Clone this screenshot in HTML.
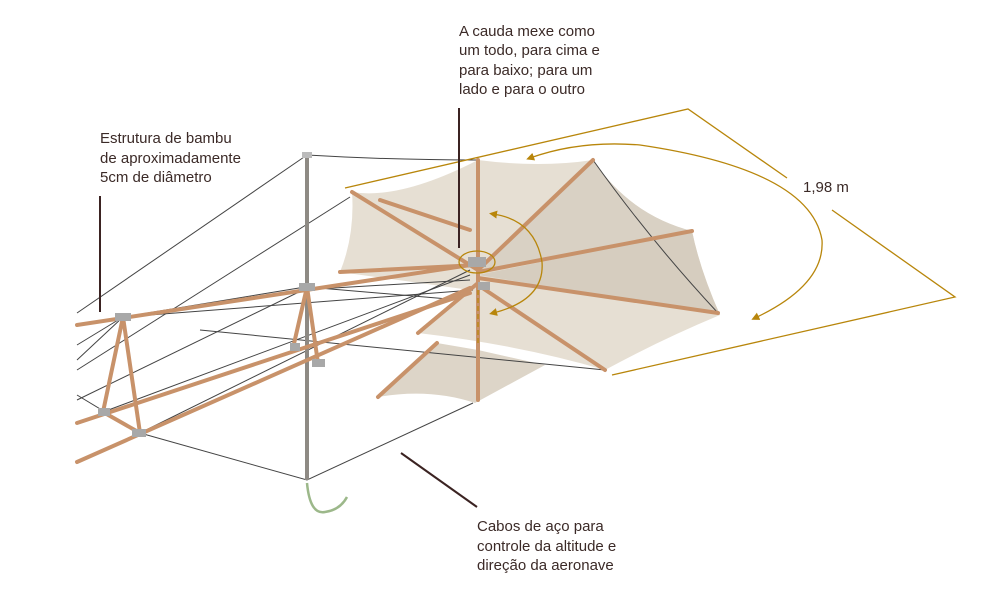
<!DOCTYPE html>
<html><head><meta charset="utf-8"><style>
html,body{margin:0;padding:0;background:#fff;width:1000px;height:600px;overflow:hidden}
svg{display:block}
text{font-family:"Liberation Sans",sans-serif;font-size:15px;fill:#3b2a27}
</style></head><body>
<svg width="1000" height="600" viewBox="0 0 1000 600">
<defs>
<marker id="ah" viewBox="0 0 10 10" refX="5" refY="5" markerWidth="8" markerHeight="8" markerUnits="userSpaceOnUse" orient="auto-start-reverse"><path d="M0,0L10,5L0,10z" fill="#b8860b"/></marker>
</defs>
<!-- fabric -->
<g stroke="none">
<path d="M378,397 L437,343 L478,350 L545,365 L475,403 Q430,388 378,397z" fill="#ddd5c8"/>
<path d="M352,192 Q400,200 478,160 Q540,168 593,160 Q630,215 692,231 Q700,270 720,315 Q660,340 605,370 Q520,345 418,333 L470,290 L340,272 Q355,235 352,192z" fill="#e6dfd3"/>
<path d="M478,270 L593,160 Q630,215 692,231 L478,272z" fill="#d9d1c4"/>
<path d="M478,275 L692,231 Q700,270 720,315z" fill="#d6cdbf"/>
</g>
<!-- wires -->
<g stroke="#444" stroke-width="1" fill="none">
<path d="M307,155 L77,313"/>
<path d="M307,155 Q390,160 478,160"/>
<path d="M350,197 L77,370"/>
<path d="M140,433 L307,480 L473,403"/>
<path d="M77,395 L140,433"/>
<path d="M123,317 L473,290"/>
<path d="M123,317 L305,287"/>
<path d="M140,433 L470,270"/>
<path d="M103,412 L470,275"/>
<path d="M307,287 L460,300"/>
<path d="M200,330 L605,370"/>
<path d="M77,345 L123,317 L77,360"/>
<path d="M593,160 Q650,240 718,313"/>
<path d="M303,290 L77,400"/>
<path d="M300,290 L470,280"/>
</g>
<!-- mast -->
<line x1="307" y1="155" x2="307" y2="480" stroke="#8e8a84" stroke-width="4"/>
<rect x="302" y="152" width="10" height="6" fill="#bbb"/>
<path d="M307,483 Q310,515 325,512 Q340,510 347,497" stroke="#9cb88a" stroke-width="2.5" fill="none"/>
<!-- bamboo -->
<g stroke="#c8926a" stroke-width="4" stroke-linecap="round" fill="none">
<path d="M77,325 L470,265"/>
<path d="M77,423 L470,293"/>
<path d="M77,462 L470,288"/>
<path d="M123,317 L103,412 L140,433 L123,317"/>
<path d="M307,287 L293,348 M307,287 L318,363"/>
<path d="M352,192 L478,270"/>
<path d="M340,272 L478,265"/>
<path d="M478,160 L478,400"/>
<path d="M478,270 L593,160"/>
<path d="M478,272 L692,231"/>
<path d="M478,278 L718,313"/>
<path d="M478,285 L605,370"/>
<path d="M478,283 L418,333"/>
<path d="M437,343 L378,397"/>
<path d="M380,200 L470,230"/>
</g>
<g fill="#a8a8a8">
<rect x="115" y="313" width="16" height="8"/><rect x="299" y="283" width="16" height="8"/>
<rect x="132" y="429" width="14" height="8"/><rect x="98" y="408" width="12" height="8"/>
<rect x="312" y="359" width="13" height="8"/><rect x="290" y="343" width="10" height="8"/>
<rect x="468" y="257" width="18" height="10"/><rect x="478" y="282" width="12" height="8"/>
</g>
<!-- gold annotations -->
<g stroke="#b8860b" stroke-width="1.3" fill="none">
<path d="M345,188 L688,109 L787,178"/>
<path d="M832,210 L955,297 L612,375"/>
<path d="M755,318 Q825,285 822,240 Q810,170 640,145 Q580,140 530,158" marker-end="url(#ah)" marker-start="url(#ah)"/>
<path d="M493,313 Q545,300 542,262 Q535,220 493,214" marker-end="url(#ah)" marker-start="url(#ah)"/>
<ellipse cx="477" cy="262" rx="18" ry="11"/>
<path d="M478,290 L478,345" stroke-dasharray="5,3"/>
</g>
<!-- leader lines -->
<g stroke="#3b2322" stroke-width="2">
<line x1="100" y1="196" x2="100" y2="312"/>
<line x1="459" y1="108" x2="459" y2="248"/>
<line x1="401" y1="453" x2="477" y2="507"/>
</g>
<text x="100" y="143">Estrutura de bambu</text>
<text x="100" y="163">de aproximadamente</text>
<text x="100" y="182">5cm de diâmetro</text>
<text x="459" y="36">A cauda mexe como</text>
<text x="459" y="55">um todo, para cima e</text>
<text x="459" y="75">para baixo; para um</text>
<text x="459" y="94">lado e para o outro</text>
<text x="803" y="192">1,98 m</text>
<text x="477" y="531">Cabos de aço para</text>
<text x="477" y="551">controle da altitude e</text>
<text x="477" y="570">direção da aeronave</text>
</svg>
</body></html>
